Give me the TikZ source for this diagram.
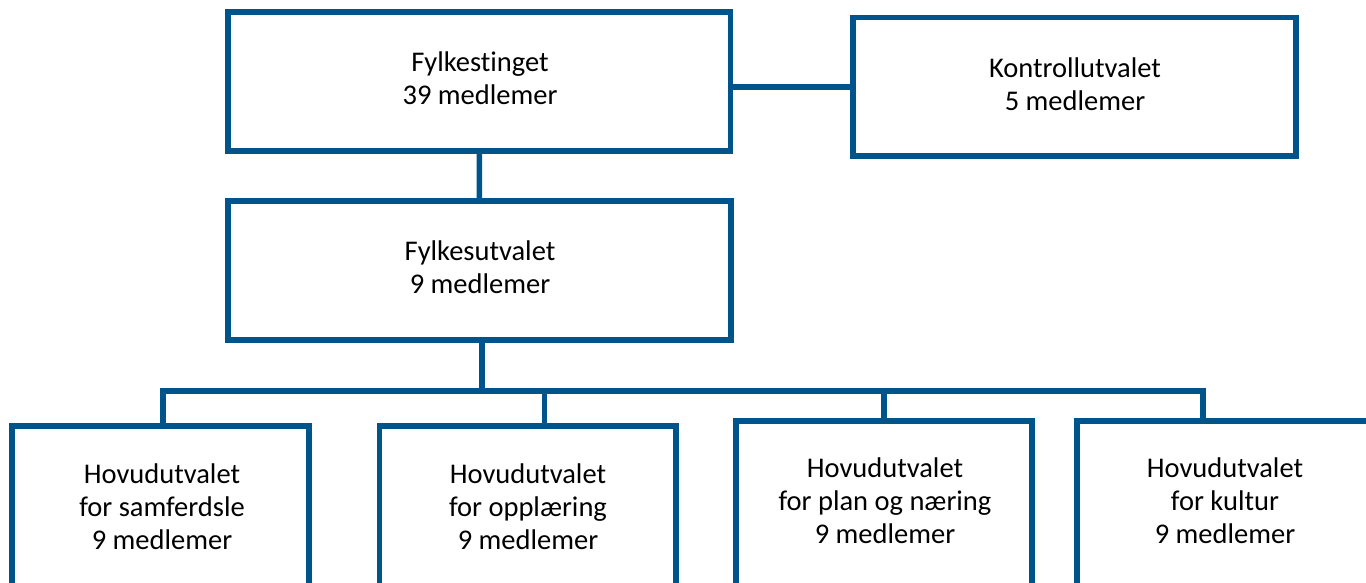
\documentclass[tikz,border=0pt]{standalone}
\usepackage{fontspec}
\setmainfont[Ligatures=NoCommon]{Carlito}
\definecolor{frame}{RGB}{0,84,140}
\begin{document}
\begin{tikzpicture}[x=1pt,y=-1pt,
  box/.style={draw=frame,line width=5.5pt,rectangle,inner sep=0pt,outer sep=0pt,anchor=north west},
  conn/.style={draw=frame,line width=5.5pt,line join=miter},
  txt/.style={align=center,font=\fontsize{28.5}{33}\selectfont,text=black,inner sep=0pt}]
\useasboundingbox (0,0) rectangle (1366,582);
\clip (0,0) rectangle (1366,582);
% boxes
\node[box,minimum width=502.5pt,minimum height=139pt] (ft) at (228,12) {};
\node[box,minimum width=443pt,minimum height=138.5pt] (ku) at (853,17.5) {};
\node[box,minimum width=503pt,minimum height=139pt] (fu) at (228,201) {};
\node[box,minimum width=297pt,minimum height=220pt] (b1) at (12,426) {};
\node[box,minimum width=296.5pt,minimum height=220pt] (b2) at (379.5,426) {};
\node[box,minimum width=296pt,minimum height=220pt] (b3) at (736,421) {};
\node[box,minimum width=400pt,minimum height=220pt] (b4) at (1077,421) {};
% texts
\node[txt] (tft) at (480,78) {Fylkestinget\\39 medlemer};
\node[txt] (tku) at (1075,84) {Kontrollutvalet\\5 medlemer};
\node[txt] (tfu) at (480,267) {Fylkesutvalet\\9 medlemer};
\node[txt] (t1) at (162,507) {Hovudutvalet\\for samferdsle\\9 medlemer};
\node[txt] (t2) at (528,507) {Hovudutvalet\\for opplæring\\9 medlemer};
\node[txt] (t3) at (885,501) {Hovudutvalet\\for plan og næring\\9 medlemer};
\node[txt] (t4) at (1225,501) {Hovudutvalet\\for kultur\\9 medlemer};
% connectors
\coordinate (k) at (0,87);
\coordinate (f) at (482,0);
\coordinate (j1) at (163,391);
\coordinate (j2) at (544.7,391);
\coordinate (j3) at (884,391);
\coordinate (j4) at (1203,391);
\draw[conn] (ft.east |- k) -- (ku.west |- k);
\draw[conn] (ft.south) -- (fu.south |- fu.north);
\draw[conn] (fu.south -| f) -- (j2 -| f);
\draw[conn] (b1.north -| j1) -- (j1) -- (j4) -- (b4.north -| j4);
\draw[conn] (j2) -- (b2.north -| j2);
\draw[conn] (j3) -- (b3.north -| j3);
\end{tikzpicture}
\end{document}
